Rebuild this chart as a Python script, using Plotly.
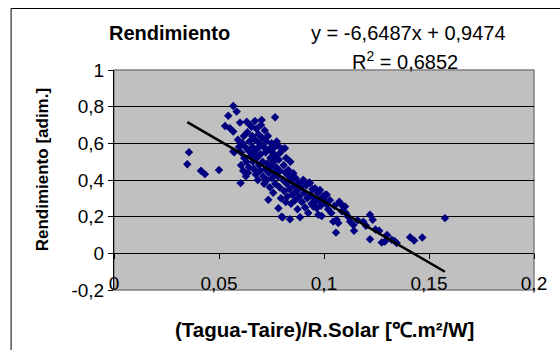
import plotly.graph_objects as go

# Data
x_vals = [0.0357,0.0349,0.0414,0.0433,0.050,0.0568,0.0584,0.0544,0.0529,0.0552,0.0568,0.0767,0.0603,0.0568,0.0573,
0.0600,0.0632,0.0590,0.0595,0.0605,0.0612,0.0620,0.0618,0.0625,0.0630,0.0635,0.0640,0.0642,0.0645,0.0648,0.0650,0.0605,0.0615,0.0628,0.0638,
0.0655,0.0658,0.0660,0.0662,0.0665,0.0668,0.0671,0.0672,0.0675,0.0678,0.0680,0.0682,0.0685,0.0688,0.0690,0.0692,0.0695,0.0698,0.0700,0.0703,0.0705,0.0708,0.0710,0.0712,0.0715,0.0718,0.0720,
0.0722,0.0725,0.0728,0.0730,0.0733,0.0735,0.0737,0.0740,0.0742,0.0745,0.0748,0.0750,0.0752,0.0755,0.0758,0.0760,0.0763,0.0765,0.0768,0.0770,0.0773,0.0775,0.0778,0.0780,0.0783,0.0785,0.0788,0.0790,0.0792,0.0795,0.0798,
0.0800,0.0803,0.0805,0.0808,0.0810,0.0814,0.0816,0.0818,0.0820,0.0823,0.0826,0.0830,0.0833,0.0836,0.0838,0.0840,0.0843,0.0846,0.0850,0.0854,0.0858,0.0862,0.0866,0.0870,0.0874,0.0878,0.0882,0.0886,0.0890,0.0895,
0.0899,0.0902,0.0905,0.0910,0.0915,0.0920,0.0925,0.0930,0.0933,0.0936,0.0940,0.0945,0.0949,0.0952,0.0957,0.0960,0.0965,0.0970,0.0973,0.0978,0.0981,0.0985,0.0989,0.0993,0.0997,
0.1005,0.1010,0.1013,0.1020,0.1028,0.1035,0.1044,0.1050,0.1057,0.1060,0.1068,0.1073,0.1076,0.1085,0.1092,0.1100,0.1105,0.1115,0.1124,0.1140,0.1143,
0.1160,0.1187,0.1200,0.1219,0.1232,0.1219,0.1245,0.1263,0.1275,0.1290,0.1300,0.1322,0.1335,0.1346,0.1410,0.1429,0.1468,0.1576]
y_vals = [0.551,0.486,0.450,0.432,0.455,0.804,0.773,0.751,0.695,0.682,0.664,0.742,0.383,0.555,0.551,
0.713,0.718,0.62,0.58,0.55,0.60,0.52,0.64,0.58,0.50,0.66,0.56,0.47,0.61,0.70,0.53,0.48,0.45,0.42,0.44,
0.69,0.64,0.58,0.50,0.46,0.55,0.722,0.62,0.43,0.68,0.52,0.57,0.40,0.65,0.48,0.60,0.45,0.54,0.70,0.727,0.63,0.50,0.42,0.58,0.38,0.67,0.46,
0.55,0.61,0.40,0.49,0.64,0.292,0.44,0.57,0.36,0.52,0.47,0.60,0.41,0.55,0.33,0.50,0.44,0.58,0.38,0.53,0.47,0.61,0.59,0.42,0.246,0.51,0.36,0.45,0.55,0.30,0.20,
0.57,0.197,0.40,0.48,0.34,0.573,0.44,0.28,0.52,0.38,0.31,0.455,0.42,0.35,0.186,0.50,0.27,0.40,0.32,0.437,0.37,0.29,0.41,0.34,0.24,0.38,0.31,0.197,0.36,0.28,
0.397,0.40,0.33,0.25,0.37,0.30,0.22,0.386,0.383,0.32,0.27,0.35,0.255,0.30,0.355,0.28,0.246,0.33,0.21,0.29,0.346,0.26,0.204,0.31,0.292,
0.319,0.27,0.319,0.24,0.29,0.22,0.173,0.26,0.113,0.183,0.165,0.282,0.273,0.23,0.255,0.255,0.219,0.20,0.173,0.155,0.123,
0.18,0.173,0.15,0.21,0.183,0.077,0.13,0.123,0.059,0.064,0.10,0.074,0.068,0.056,0.088,0.070,0.086,0.192]

slope = -6.6487
intercept = 0.9474

x_tickvals = [0, 0.05, 0.1, 0.15, 0.2]
x_ticktext = ["0", "0,05", "0,1", "0,15", "0,2"]
y_tickvals = [-0.2, 0, 0.2, 0.4, 0.6, 0.8, 1.0]
y_ticktext = ["-0,2", "0", "0,2", "0,4", "0,6", "0,8", "1"]

FONT = "Liberation Sans, Arial, sans-serif"

x_line = [min(x_vals), max(x_vals)]
y_line = [slope * v + intercept for v in x_line]

fig = go.Figure()
fig.add_trace(go.Scatter(x=x_vals, y=y_vals, mode="markers",
                         marker=dict(symbol="diamond", size=6.5, color="#000080", line=dict(width=0)),
                         showlegend=False))
fig.add_trace(go.Scatter(x=x_line, y=y_line, mode="lines",
                         line=dict(color="black", width=2.5), showlegend=False))

fig.update_layout(
    width=560, height=350,
    margin=dict(l=114, r=26, t=70, b=60),
    paper_bgcolor="white", plot_bgcolor="#C0C0C0",
    font=dict(family=FONT, size=19, color="black"),
    xaxis=dict(range=[0, 0.2], tickvals=x_tickvals, ticktext=x_ticktext,
               showgrid=False, zeroline=False, showline=True, linecolor="black", linewidth=1,
               ticks="outside", ticklen=5, tickcolor="black", anchor="free", position=1/6,
               ticklabelstandoff=8),
    yaxis=dict(range=[-0.2, 1.0], tickvals=y_tickvals, ticktext=y_ticktext,
               showgrid=True, gridcolor="black", gridwidth=1, zeroline=False,
               showline=True, linecolor="black", linewidth=1,
               ticks="outside", ticklen=5, tickcolor="black"),
    shapes=[
        dict(type="rect", xref="paper", yref="paper", x0=0, x1=1, y0=0, y1=1,
             line=dict(color="#808080", width=1.5), layer="below"),
        dict(type="rect", xref="paper", yref="paper", x0=-0.245, x1=1.2, y0=-0.6, y1=1.2795,
             line=dict(color="black", width=1)),
    ],
    annotations=[
        dict(text="<b>Rendimiento</b>", x=0.133, y=1.168, xref="paper", yref="paper",
             xanchor="center", yanchor="middle", showarrow=False, font=dict(size=20)),
        dict(text="y = -6,6487x + 0,9474", x=0.700, y=1.168, xref="paper", yref="paper",
             xanchor="center", yanchor="middle", showarrow=False, font=dict(size=20)),
        dict(text="R<sup>2</sup> = 0,6852", x=0.693, y=1.045, xref="paper", yref="paper",
             xanchor="center", yanchor="middle", showarrow=False, font=dict(size=20)),
        dict(text="<b>Rendimiento [adim.]</b>", x=-0.171, y=0.545, xref="paper", yref="paper",
             xanchor="center", yanchor="middle", showarrow=False, textangle=-90, font=dict(size=17)),
        dict(text="<b>(Tagua-Taire)/R.Solar [℃.m²/W]</b>", x=0.5, y=-0.18, xref="paper", yref="paper",
             xanchor="center", yanchor="middle", showarrow=False, font=dict(size=20.5)),
    ],
)
fig.write_html("out.html", config={"displayModeBar": False},
               post_script="document.body.style.margin='0';document.body.style.padding='0';")
